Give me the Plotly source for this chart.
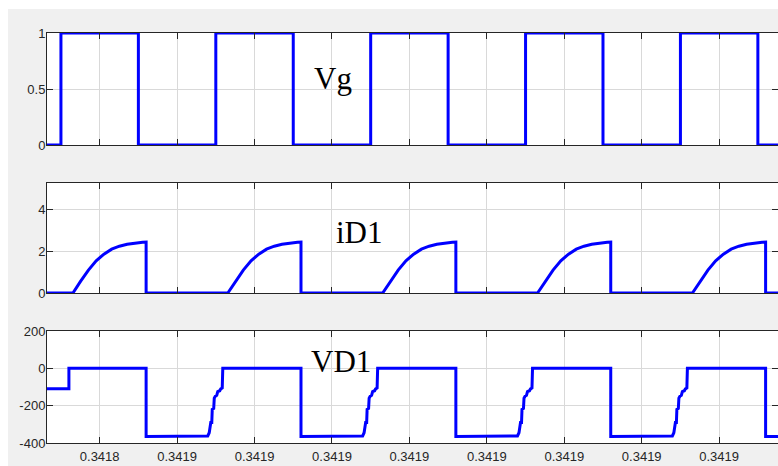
import plotly.graph_objects as go

# ---------------- data ----------------
x_range = [0.3418332, 0.3419276]
tick_vals = [0.34184, 0.34185, 0.34186, 0.34187, 0.34188, 0.34189, 0.34190, 0.34191, 0.34192]
tick_text = ["0.3418", "0.3419", "0.3419", "0.3419", "0.3419", "0.3419", "0.3419", "0.3419", "0.3419"]

# Vg gate signal: rising / falling edge times (s)
vg_rise = [0.341835, 0.341855, 0.341875, 0.341895, 0.341915]
vg_fall = [0.341845, 0.341865, 0.341885, 0.341905, 0.341925]

# iD1 diode current pulses
id1_start = [0.34183655, 0.34185655, 0.34187655, 0.34189655, 0.34191655]
id1_end = [0.34184600, 0.34186600, 0.34188600, 0.34190600, 0.34192600]
id1_shape_us = [0, 1, 2, 3, 4, 5, 6, 7, 8, 9, 9.45]
id1_shape_val = [0, 0.57, 1.10, 1.55, 1.87, 2.11, 2.25, 2.34, 2.40, 2.44, 2.45]

# VD1 diode voltage
vd1_initial = -110
vd1_initial_end = 0.34183603
vd1_high = 0
vd1_low = -365
vd1_drop = [0.34184600, 0.34186600, 0.34188600, 0.34190600, 0.34192600]
vd1_stair_start = [0.3418537, 0.3418737, 0.3418937, 0.3419137]
stair_us = [0, 0.26, 0.45, 0.58, 0.65, 0.78, 0.84, 1.03, 1.10, 1.23, 1.42, 1.55, 1.81, 1.94, 2.13, 2.20]
stair_val = [-365, -362, -345, -300, -290, -290, -220, -215, -160, -150, -145, -125, -120, -110, -105, 0]

# ---------------- build traces ----------------
vg_x, vg_y = [x_range[0]], [0]
for r, f in zip(vg_rise, vg_fall):
    vg_x += [r, r, f, f]
    vg_y += [0, 1, 1, 0]
vg_x.append(x_range[1]); vg_y.append(0)

id_x, id_y = [x_range[0]], [0]
for s, e in zip(id1_start, id1_end):
    for off, v in zip(id1_shape_us, id1_shape_val):
        id_x.append(s + off * 1e-6); id_y.append(v)
    id_x += [e, e]
    id_y += [id1_shape_val[-1], 0]
id_x.append(x_range[1]); id_y.append(0)

vd_x = [x_range[0], vd1_initial_end, vd1_initial_end]
vd_y = [vd1_initial, vd1_initial, vd1_high]
for i, d in enumerate(vd1_drop):
    vd_x += [d, d]
    vd_y += [vd1_high, vd1_low]
    if i < len(vd1_stair_start):
        s = vd1_stair_start[i]
        for off, v in zip(stair_us, stair_val):
            vd_x.append(s + off * 1e-6); vd_y.append(v)
vd_x.append(x_range[1]); vd_y.append(vd1_low)

line = dict(color="#0000ff", width=3)
fig = go.Figure()
fig.add_trace(go.Scatter(x=vg_x, y=vg_y, mode="lines", line=line, xaxis="x", yaxis="y", showlegend=False))
fig.add_trace(go.Scatter(x=id_x, y=id_y, mode="lines", line=line, xaxis="x2", yaxis="y2", showlegend=False))
fig.add_trace(go.Scatter(x=vd_x, y=vd_y, mode="lines", line=line, xaxis="x3", yaxis="y3", showlegend=False))

W, H = 778, 466
L, R, T, B = 47, 0, 33, 23
pw, ph = W - L - R, H - T - B


def px_x(px):
    return (px - L) / pw


def px_y(py):
    return (H - B - py) / ph


tickfont = dict(family="Liberation Sans, Arial, sans-serif", size=13, color="#262626")
common = dict(showline=True, linecolor="#262626", linewidth=1, mirror="ticks",
              ticks="inside", ticklen=6, tickcolor="#262626", tickwidth=1,
              showgrid=True, gridcolor="#d9d9d9", gridwidth=1, zeroline=False,
              tickfont=tickfont)

xcommon = dict(common, range=x_range, tickvals=tick_vals, ticktext=tick_text)
ycommon = dict(common, ticklabelstandoff=-2)

fig.update_layout(
    width=W, height=H,
    margin=dict(l=L, r=R, t=T, b=B),
    paper_bgcolor="#f0f0f0", plot_bgcolor="#ffffff",
    xaxis=dict(xcommon, anchor="y", showticklabels=False),
    xaxis2=dict(xcommon, anchor="y2", showticklabels=False),
    xaxis3=dict(xcommon, anchor="y3", showticklabels=True, ticklabelstandoff=1),
    yaxis=dict(ycommon, anchor="x", domain=[px_y(145), px_y(33)], range=[0, 1],
               tickvals=[0, 0.5, 1], ticktext=["0", "0.5", "1"]),
    yaxis2=dict(ycommon, anchor="x2", domain=[px_y(293), px_y(183)], range=[0, 5.29],
                tickvals=[0, 2, 4], ticktext=["0", "2", "4"]),
    yaxis3=dict(ycommon, anchor="x3", domain=[px_y(443), px_y(331)], range=[-400, 200],
                tickvals=[-400, -200, 0, 200], ticktext=["-400", "-200", "0", "200"]),
    shapes=[
        dict(type="rect", xref="paper", yref="paper", x0=px_x(0), x1=px_x(8), y0=px_y(H), y1=px_y(0),
             fillcolor="#ffffff", line=dict(width=0), layer="above"),
        dict(type="rect", xref="paper", yref="paper", x0=px_x(0), x1=px_x(W), y0=px_y(9), y1=px_y(0),
             fillcolor="#ffffff", line=dict(width=0), layer="above"),
    ],
)

labfont = dict(family="Liberation Serif, Times New Roman, serif", size=31, color="#000000")
for txt, cx, cy in [("Vg", 332.5, 78), ("iD1", 359.5, 232.5), ("VD1", 341, 361.5)]:
    fig.add_annotation(text=txt, xref="paper", yref="paper", x=px_x(cx), y=px_y(cy),
                       xanchor="center", yanchor="middle", showarrow=False, font=labfont)

fig.write_html("out.html", config={"displayModeBar": False})
